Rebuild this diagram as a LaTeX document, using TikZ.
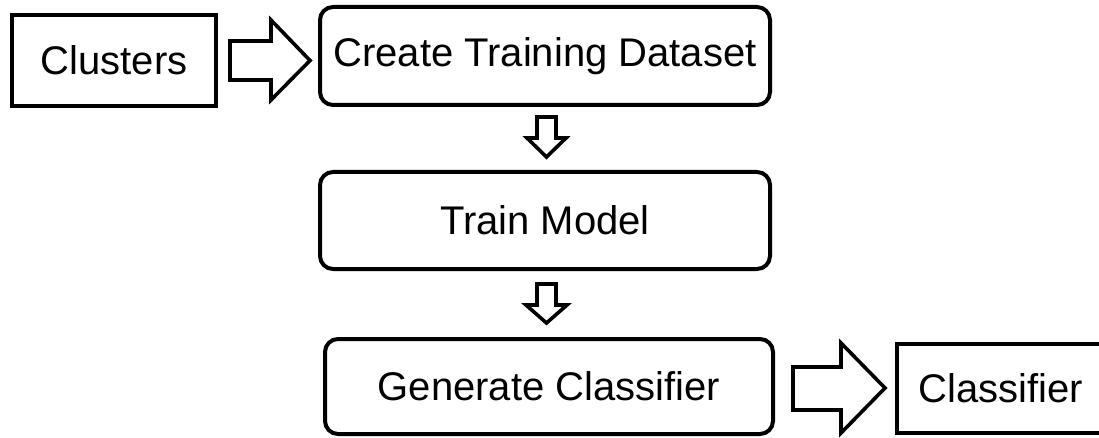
\documentclass[tikz,border=0pt]{standalone}
\usepackage{fontspec}
\setmainfont{Liberation Sans}
\begin{document}
\begin{tikzpicture}[x=1pt,y=-1pt,
  box/.style={draw=black, line width=4pt, fill=white, font=\fontsize{40}{46}\selectfont, inner sep=0pt, align=center},
  rbox/.style={box, rounded corners=13pt},
  blockarrow/.style={draw=black, line width=3.6pt, fill=white, line join=miter}]
\path[use as bounding box, clip] (0,0) rectangle (1099,438);
\fill[white] (0,0) rectangle (1099,438);
\node[box, minimum width=204pt, minimum height=91pt] (clu) at (114,60.5) {Clusters};
\node[rbox, minimum width=450pt, minimum height=98pt] (ctd) at (545,56) {Create Training Dataset};
\node[rbox, minimum width=450pt, minimum height=97pt] (tm) at (545,220.5) {Train Model};
\node[rbox, minimum width=448pt, minimum height=95pt] (gc) at (549,386.5) {Generate Classifier};
\node[box, minimum width=208pt, minimum height=89pt] (cls) at (1001,388.5) {Classifier};
% block arrows
\draw[blockarrow] (230,41) -- (271,41) -- (271,20) -- (310,60.5) -- (271,100) -- (271,80) -- (230,80) -- cycle;
\draw[blockarrow] (793,367) -- (841,367) -- (841,343) -- (885,388) -- (841,433) -- (841,410) -- (793,410) -- cycle;
\draw[blockarrow] (537,117) -- (556,117) -- (556,138) -- (566,138) -- (546.5,157) -- (527,138) -- (537,138) -- cycle;
\draw[blockarrow] (537,284) -- (556,284) -- (556,305) -- (567,305) -- (546.5,323) -- (526,305) -- (537,305) -- cycle;
\end{tikzpicture}
\end{document}
